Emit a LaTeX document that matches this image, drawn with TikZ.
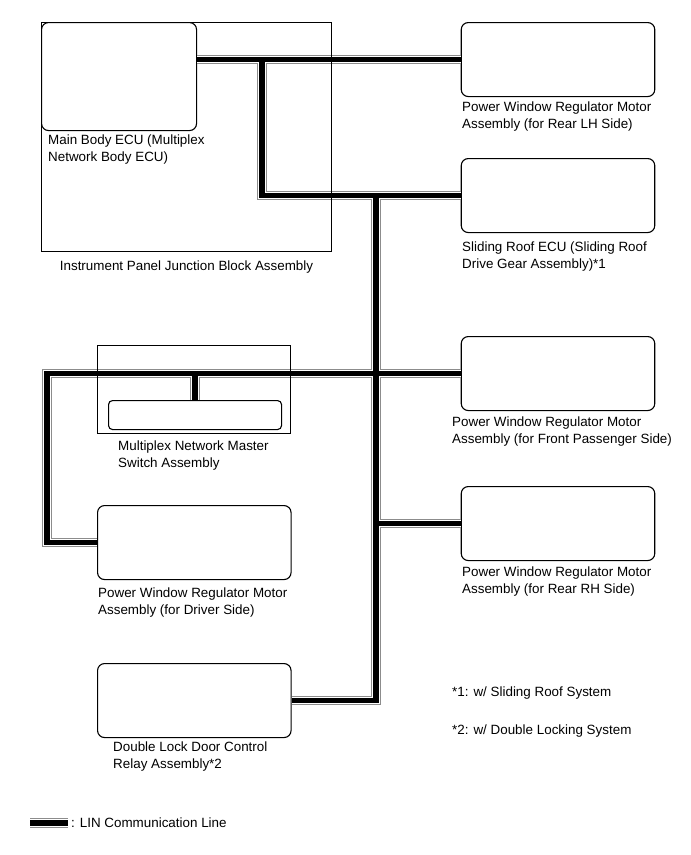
\documentclass[tikz,border=0pt]{standalone}
\usepackage{fontspec}
\setmainfont{Liberation Sans}
\usepackage{tikz}
\usetikzlibrary{calc}

\tikzset{
  unitbox/.style={draw, line width=1.1pt, rounded corners=7pt, inner sep=0pt,
    minimum width=193.5pt, minimum height=74pt, anchor=north west},
  plainbox/.style={draw, line width=1pt, inner sep=0pt, anchor=north west},
  lbl/.style={align=left, anchor=north west, inner sep=0pt},
  lin/.style={line width=5.6pt,
    preaction={draw=black!45, line width=9.6pt},
    preaction={draw=white, line width=7.6pt}}
}

\begin{document}
\begin{tikzpicture}[x=1pt, y=-1pt, font=\fontsize{13.4}{17}\selectfont]
		\useasboundingbox (0,0) rectangle (691,855);
		\def\xr{460.7}  % left edge of the right column
		\def\xl{97}     % left edge of the left column
		% units
		\node[unitbox, minimum width=155pt, minimum height=108pt] (ecu) at (41,22) {};
		\foreach \nm/\y in {rl/22, sr/158, fp/336, rr/486}
			\node[unitbox] (\nm) at (\xr,\y) {};
		\node[unitbox] (dr) at (\xl,505) {};
		\node[unitbox] (dl) at (\xl,663) {};
		\node[unitbox, rounded corners=4pt, minimum width=173pt, minimum height=29pt] (ms) at (108,400) {};
		% bus points
		\coordinate (jtop) at (262,59);
		\coordinate (bx) at (376,0);
		\coordinate (bl) at (47,0);
		% LIN lines
		\draw[lin] (ecu.east |- rl.west) -- (rl.west)
			(jtop) |- (sr.west)
			(bx |- sr.west) |- (dl.east)
			(dr.west) -| (bl |- fp.west) -- (fp.west)
			(ms.north) -- (ms.north |- fp.west)
			(bx |- rr.west) -- (rr.west);
		% housings
		\node[plainbox, minimum width=290pt, minimum height=229pt] (jb) at (41,22) {};
		\node[plainbox, minimum width=193pt, minimum height=88pt] (msw) at (\xl,345) {};
		% labels
		\node[lbl] (ecul) at (48,135) {Main Body ECU (Multiplex\\Network Body ECU)};
		\node[anchor=north, inner sep=0pt] (jbl) at ($(jb.south)+(0,9)$) {Instrument Panel Junction Block Assembly};
		\node[lbl] (rll) at (462,102) {Power Window Regulator Motor\\Assembly (for Rear LH Side)};
		\node[lbl] (srl) at (462,242) {Sliding Roof ECU (Sliding Roof\\Drive Gear Assembly)*1};
		\node[lbl] (fpl) at (452,417) {Power Window Regulator Motor\\Assembly (for Front Passenger Side)};
		\node[lbl] (rrl) at (462,567) {Power Window Regulator Motor\\Assembly (for Rear RH Side)};
		\node[lbl] (msl) at (118,441) {Multiplex Network Master\\Switch Assembly};
		\node[lbl] (drl) at (98,588) {Power Window Regulator Motor\\Assembly (for Driver Side)};
		\node[lbl] (dll) at (113,742) {Double Lock Door Control\\Relay Assembly*2};
		% notes
		\node[anchor=west, inner sep=0pt] (n1) at (452,693) {*1: w/ Sliding Roof System};
		\node[anchor=west, inner sep=0pt] (n2) at (452,731) {*2: w/ Double Locking System};
		% legend
		\coordinate (legs) at (30,823);
		\node[anchor=west, inner sep=0pt] (legt) at (71,823) {: LIN Communication Line};
		\draw[lin] (legs) -- ([xshift=-3pt]legt.west);
	\end{tikzpicture}
\end{document}
